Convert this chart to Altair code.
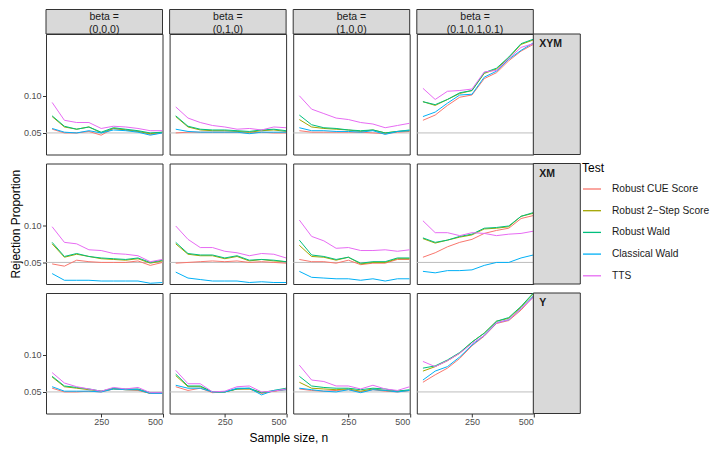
import altair as alt
import pandas as pd

FONT = "Liberation Sans"

N = [50, 100, 150, 200, 250, 300, 350, 400, 450, 500]
TESTS = ["Robust CUE Score", "Robust 2\u2212Step Score", "Robust Wald", "Classical Wald", "TTS"]
COLORS = ["#F8766D", "#A3A500", "#00BF7D", "#00B0F6", "#E76BF3"]
ROWS = ["XYM", "XM", "Y"]
COLS = ["(0,0,0)", "(0,1,0)", "(1,0,0)", "(0.1,0.1,0.1)"]

# each panel: [CUE, 2-Step, Robust Wald, Classical Wald, TTS]
XYM_000 = [
    [0.055, 0.050, 0.050, 0.052, 0.047, 0.056, 0.054, 0.052, 0.048, 0.050],
    [0.072, 0.058, 0.055, 0.058, 0.050, 0.056, 0.054, 0.052, 0.049, 0.051],
    [0.073, 0.059, 0.055, 0.058, 0.051, 0.057, 0.055, 0.053, 0.050, 0.051],
    [0.056, 0.051, 0.050, 0.053, 0.050, 0.054, 0.053, 0.051, 0.047, 0.050],
    [0.091, 0.067, 0.064, 0.064, 0.056, 0.059, 0.058, 0.056, 0.053, 0.053],
]
XYM_010 = [
    [0.050, 0.051, 0.051, 0.051, 0.051, 0.051, 0.050, 0.051, 0.050, 0.050],
    [0.072, 0.058, 0.054, 0.053, 0.053, 0.052, 0.051, 0.053, 0.054, 0.052],
    [0.073, 0.059, 0.055, 0.054, 0.054, 0.053, 0.052, 0.054, 0.055, 0.053],
    [0.055, 0.052, 0.051, 0.051, 0.051, 0.051, 0.049, 0.051, 0.051, 0.051],
    [0.085, 0.070, 0.064, 0.060, 0.058, 0.055, 0.056, 0.054, 0.058, 0.057],
]
XYM_100 = [
    [0.053, 0.051, 0.051, 0.051, 0.051, 0.051, 0.050, 0.049, 0.051, 0.052],
    [0.068, 0.058, 0.056, 0.055, 0.054, 0.052, 0.054, 0.050, 0.052, 0.053],
    [0.074, 0.061, 0.057, 0.056, 0.054, 0.053, 0.054, 0.050, 0.052, 0.054],
    [0.057, 0.053, 0.053, 0.052, 0.052, 0.051, 0.053, 0.048, 0.052, 0.053],
    [0.100, 0.082, 0.076, 0.070, 0.068, 0.064, 0.062, 0.057, 0.060, 0.063],
]
XYM_111 = [
    [0.067, 0.074, 0.087, 0.098, 0.101, 0.123, 0.131, 0.147, 0.160, 0.169],
    [0.092, 0.087, 0.095, 0.103, 0.107, 0.130, 0.136, 0.151, 0.169, 0.175],
    [0.092, 0.088, 0.095, 0.104, 0.107, 0.131, 0.137, 0.152, 0.170, 0.176],
    [0.072, 0.078, 0.090, 0.101, 0.102, 0.125, 0.133, 0.149, 0.161, 0.171],
    [0.110, 0.095, 0.106, 0.107, 0.109, 0.132, 0.134, 0.150, 0.165, 0.170],
]
XM_000 = [
    [0.048, 0.045, 0.053, 0.051, 0.050, 0.050, 0.050, 0.052, 0.046, 0.050],
    [0.075, 0.057, 0.061, 0.058, 0.055, 0.054, 0.053, 0.055, 0.049, 0.052],
    [0.077, 0.058, 0.062, 0.058, 0.056, 0.055, 0.054, 0.056, 0.050, 0.053],
    [0.035, 0.026, 0.026, 0.026, 0.025, 0.025, 0.025, 0.025, 0.022, 0.023],
    [0.098, 0.077, 0.075, 0.067, 0.066, 0.062, 0.061, 0.059, 0.051, 0.054],
]
XM_010 = [
    [0.049, 0.050, 0.051, 0.052, 0.051, 0.052, 0.050, 0.051, 0.050, 0.049],
    [0.075, 0.061, 0.059, 0.059, 0.055, 0.058, 0.052, 0.054, 0.052, 0.051],
    [0.077, 0.062, 0.060, 0.060, 0.056, 0.059, 0.053, 0.054, 0.053, 0.051],
    [0.037, 0.029, 0.027, 0.025, 0.025, 0.025, 0.023, 0.024, 0.023, 0.023],
    [0.099, 0.081, 0.070, 0.070, 0.065, 0.063, 0.059, 0.062, 0.061, 0.056],
]
XM_100 = [
    [0.054, 0.051, 0.051, 0.049, 0.053, 0.047, 0.049, 0.049, 0.054, 0.054],
    [0.073, 0.058, 0.057, 0.053, 0.057, 0.048, 0.050, 0.050, 0.055, 0.055],
    [0.080, 0.060, 0.058, 0.054, 0.057, 0.049, 0.051, 0.051, 0.056, 0.056],
    [0.038, 0.030, 0.029, 0.028, 0.028, 0.026, 0.028, 0.025, 0.028, 0.028],
    [0.107, 0.085, 0.079, 0.069, 0.070, 0.066, 0.066, 0.067, 0.065, 0.067],
]
XM_111 = [
    [0.057, 0.063, 0.071, 0.077, 0.081, 0.089, 0.093, 0.096, 0.109, 0.113],
    [0.082, 0.076, 0.080, 0.084, 0.087, 0.095, 0.096, 0.098, 0.112, 0.116],
    [0.083, 0.077, 0.080, 0.085, 0.088, 0.096, 0.097, 0.099, 0.112, 0.117],
    [0.038, 0.036, 0.039, 0.039, 0.040, 0.046, 0.050, 0.050, 0.056, 0.060],
    [0.106, 0.090, 0.090, 0.086, 0.090, 0.089, 0.086, 0.088, 0.089, 0.092],
]
Y_000 = [
    [0.055, 0.050, 0.050, 0.051, 0.050, 0.054, 0.053, 0.052, 0.048, 0.048],
    [0.070, 0.057, 0.055, 0.053, 0.051, 0.054, 0.053, 0.053, 0.048, 0.048],
    [0.071, 0.058, 0.056, 0.054, 0.051, 0.055, 0.054, 0.054, 0.049, 0.049],
    [0.057, 0.051, 0.051, 0.051, 0.050, 0.054, 0.053, 0.053, 0.048, 0.048],
    [0.076, 0.062, 0.057, 0.054, 0.051, 0.056, 0.054, 0.056, 0.049, 0.049],
]
Y_010 = [
    [0.057, 0.052, 0.055, 0.049, 0.050, 0.054, 0.054, 0.048, 0.051, 0.053],
    [0.072, 0.057, 0.057, 0.050, 0.050, 0.054, 0.054, 0.049, 0.051, 0.054],
    [0.074, 0.058, 0.058, 0.050, 0.050, 0.054, 0.055, 0.049, 0.052, 0.055],
    [0.059, 0.055, 0.055, 0.050, 0.050, 0.055, 0.055, 0.046, 0.052, 0.053],
    [0.079, 0.061, 0.061, 0.050, 0.051, 0.057, 0.058, 0.050, 0.051, 0.054],
]
Y_100 = [
    [0.054, 0.052, 0.051, 0.052, 0.053, 0.050, 0.053, 0.051, 0.050, 0.052],
    [0.063, 0.055, 0.054, 0.053, 0.054, 0.051, 0.054, 0.052, 0.051, 0.052],
    [0.071, 0.058, 0.056, 0.055, 0.055, 0.053, 0.055, 0.054, 0.051, 0.053],
    [0.055, 0.053, 0.051, 0.050, 0.053, 0.049, 0.053, 0.052, 0.050, 0.052],
    [0.086, 0.066, 0.064, 0.058, 0.058, 0.054, 0.059, 0.054, 0.052, 0.057],
]
Y_111 = [
    [0.063, 0.073, 0.082, 0.095, 0.112, 0.125, 0.142, 0.146, 0.160, 0.178],
    [0.078, 0.084, 0.092, 0.102, 0.117, 0.129, 0.145, 0.149, 0.164, 0.182],
    [0.082, 0.085, 0.093, 0.103, 0.117, 0.129, 0.145, 0.150, 0.165, 0.183],
    [0.066, 0.078, 0.084, 0.097, 0.113, 0.126, 0.143, 0.147, 0.162, 0.179],
    [0.091, 0.084, 0.092, 0.102, 0.115, 0.126, 0.143, 0.147, 0.162, 0.177],
]

PANELS = {
    ("XYM", COLS[0]): XYM_000, ("XYM", COLS[1]): XYM_010,
    ("XYM", COLS[2]): XYM_100, ("XYM", COLS[3]): XYM_111,
    ("XM", COLS[0]): XM_000, ("XM", COLS[1]): XM_010,
    ("XM", COLS[2]): XM_100, ("XM", COLS[3]): XM_111,
    ("Y", COLS[0]): Y_000, ("Y", COLS[1]): Y_010,
    ("Y", COLS[2]): Y_100, ("Y", COLS[3]): Y_111,
}

records = []
for (r, c), series in PANELS.items():
    for t, vals in zip(TESTS, series):
        for n, v in zip(N, vals):
            records.append({"row": r, "col": c, "Test": t, "n": n, "value": v})
df = pd.DataFrame(records)

W, H = 116.5, 120.5
SP_COL, SP_ROW = 6.6, 8.5
STRIP_H = 24.5
RSTRIP_W = 47

xs = alt.Scale(domain=[25, 500], nice=False)
ys = alt.Scale(domain=[0.021, 0.183], nice=False, zero=False)

color = alt.Color(
    "Test:N",
    scale=alt.Scale(domain=TESTS, range=COLORS),
    legend=alt.Legend(
        title="Test", orient="none", legendX=536, legendY=129,
        symbolType="stroke", symbolSize=324, symbolStrokeWidth=1.3,
        labelFontSize=10.2, titleFontSize=12, titleFontWeight="normal",
        labelColor="#1A1A1A", titleColor="#000000", rowPadding=5.7,
        titlePadding=4, labelOffset=10, labelFont=FONT, titleFont=FONT,
    ),
)

one = pd.DataFrame({"k": [0]})


def panel(i, j):
    r, c = ROWS[i], COLS[j]
    if j == 0:
        yaxis = alt.Axis(
            values=[0.05, 0.10], format=".2f", grid=False, domain=False,
            labelFontSize=9, labelColor="#4D4D4D", tickColor="#333333",
            tickSize=3.5, labelPadding=1.5, labelFont=FONT,
            title="Rejection Proportion" if i == 1 else None,
            titleFontSize=12, titleFontWeight="normal", titleColor="#000000",
            titlePadding=1, titleFont=FONT,
        )
    else:
        yaxis = None
    if i == 2:
        kw = {}
        if j == 1:
            kw = {"titleX": W + SP_COL / 2 - 1}
        xaxis = alt.Axis(
            values=[250, 500], format="d", grid=False, domain=False,
            labelFontSize=9, labelColor="#4D4D4D", tickColor="#333333",
            tickSize=3.5, labelPadding=0, labelFont=FONT,
            title="Sample size, n" if j == 1 else None,
            titleFontSize=12, titleFontWeight="normal", titleColor="#000000",
            titlePadding=6, titleFont=FONT, **kw,
        )
    else:
        xaxis = None

    ref = alt.Chart(pd.DataFrame({"v": [0.05]})).mark_rule(
        color="#BDBDBD", strokeWidth=1
    ).encode(y=alt.Y("v:Q", scale=ys, axis=yaxis))

    lines = alt.Chart(df).transform_filter(
        (alt.datum.row == r) & (alt.datum.col == c)
    ).mark_line(strokeWidth=1, clip=True).encode(
        x=alt.X("n:Q", scale=xs, axis=xaxis),
        y=alt.Y("value:Q", scale=ys, axis=yaxis),
        color=color,
        detail="Test:N",
    )
    layers = [ref, lines]
    if i == 0:
        layers.append(alt.Chart(one).mark_rect(
            fill="#D9D9D9", stroke="#333333", strokeWidth=1
        ).encode(x=alt.value(0), x2=alt.value(W), y=alt.value(-STRIP_H), y2=alt.value(0)))
        layers.append(alt.Chart(one).mark_text(
            fontSize=10.5, color="#1A1A1A", font=FONT, lineHeight=12.5,
            baseline="middle", align="center"
        ).encode(x=alt.value(W / 2), y=alt.value(-STRIP_H / 2 - 4.5),
                 text=alt.value(["beta =", c])))
    if j == 3:
        layers.append(alt.Chart(one).mark_rect(
            fill="#D9D9D9", stroke="#333333", strokeWidth=1
        ).encode(x=alt.value(W), x2=alt.value(W + RSTRIP_W), y=alt.value(0), y2=alt.value(H)))
        layers.append(alt.Chart(one).mark_text(
            fontSize=10.5, color="#1A1A1A", font=FONT, fontWeight="bold",
            baseline="top", align="left"
        ).encode(x=alt.value(W + 6), y=alt.value(5), text=alt.value(r)))
    return alt.layer(*layers).properties(width=W, height=H)


panels = [panel(i, j) for i in range(3) for j in range(4)]

chart = alt.concat(*panels, columns=4).properties(
    bounds="flush",
    spacing={"row": SP_ROW, "column": SP_COL},
    padding={"left": 0, "top": 0, "right": 0, "bottom": 0},
).configure(font=FONT).configure_view(
    stroke="#333333", strokeWidth=1
)

chart.save("out.html", embed_options={"renderer": "svg", "actions": False})
